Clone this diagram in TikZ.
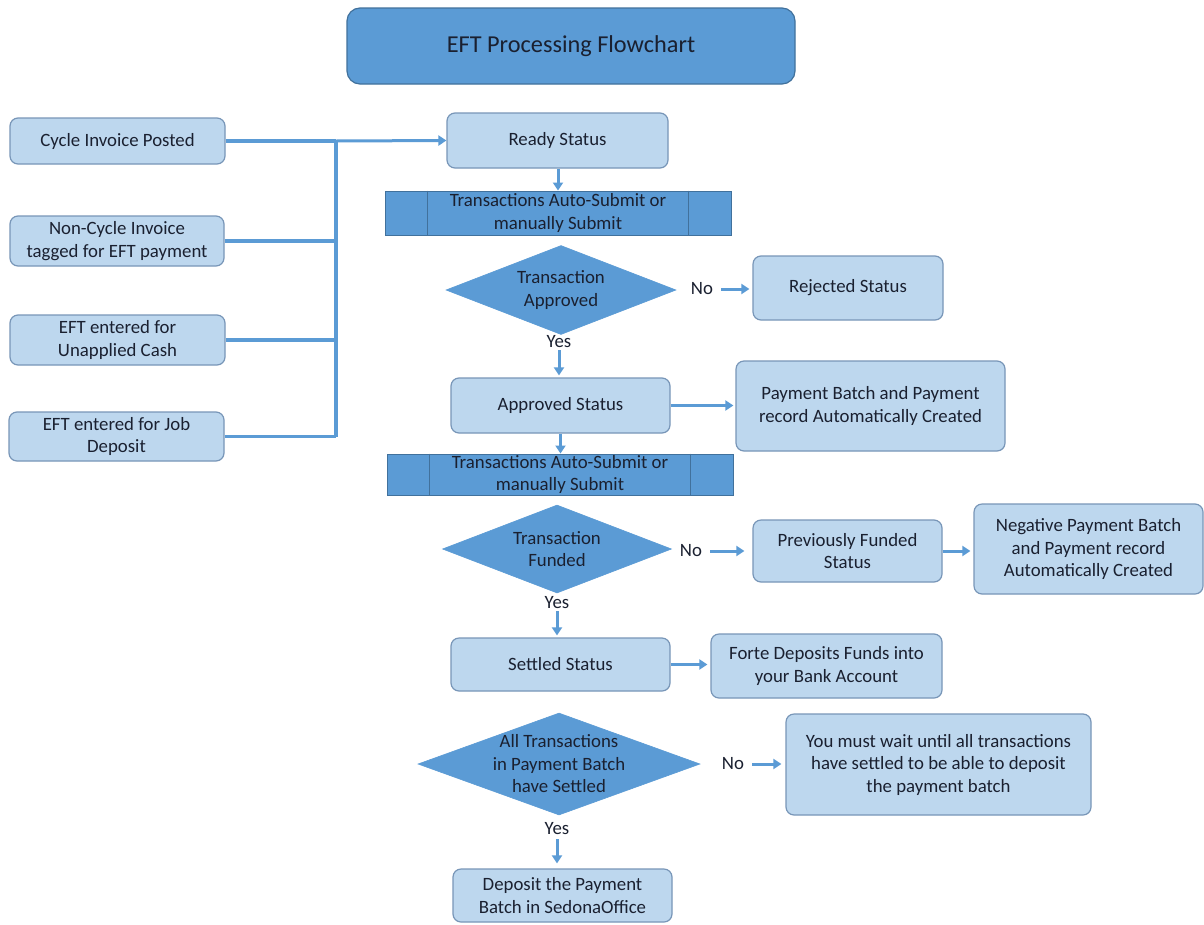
\documentclass[tikz,border=0pt]{standalone}
\usepackage{fontspec}
\setmainfont{Carlito}
\usetikzlibrary{shapes.geometric,arrows.meta,calc}
\definecolor{lightfill}{HTML}{BDD7EE}
\definecolor{lightdraw}{HTML}{7896B8}
\definecolor{darkfill}{HTML}{5B9BD5}
\definecolor{darkdraw}{HTML}{41719C}
\definecolor{linecol}{HTML}{5B9BD5}
\definecolor{txt}{HTML}{1A2030}
\tikzset{
  x=1pt, y=-1pt,
  every node/.style={font=\fontsize{18.8}{22.5}\selectfont, text=txt, align=center, inner sep=0pt},
  lbox/.style={draw=lightdraw, fill=lightfill, rounded corners=8pt, line width=1.2pt},
  barbox/.style={draw=darkdraw, fill=darkfill, line width=1pt},
  dia/.style={diamond, draw=darkfill, fill=darkfill, line width=0.6pt},
  titlebox/.style={draw=darkdraw, fill=darkfill, rounded corners=13pt, line width=1.2pt, font=\fontsize{24.3}{29}\selectfont},
  bus/.style={draw=linecol, line width=3.8pt},
  arr/.style={draw=linecol, line width=3pt, -{Triangle[length=8pt,width=10pt]}}
}
\newcommand{\boxat}[6]{%
  \node[#1, minimum width=#4-#2, minimum height=#5-#3] (#6) at ({(#2+#4)/2},{(#3+#5)/2})}
\begin{document}
\begin{tikzpicture}
\useasboundingbox (0,0) rectangle (1204,924);
\fill[white] (0,0) rectangle (1204,924);
% title
\boxat{titlebox}{347}{8}{795}{84}{title} {EFT Processing Flowchart};
% left inputs
\boxat{lbox}{10}{118}{225}{164}{cyc} {Cycle Invoice Posted};
\boxat{lbox}{10}{216}{224}{266}{noncyc} {Non-Cycle Invoice\\tagged for EFT payment};
\boxat{lbox}{10}{315}{225}{365}{unap} {EFT entered for\\Unapplied Cash};
\boxat{lbox}{9}{412}{224}{461}{jobd} {EFT entered for Job\\Deposit};
% main column
\boxat{lbox}{447}{113}{668}{168}{ready} {Ready Status};
\boxat{barbox}{385}{191}{731}{235}{bar1} {Transactions Auto-Submit or\\manually Submit};
\draw[darkdraw, line width=1pt] ([xshift=43pt]bar1.north west) -- ([xshift=43pt]bar1.south west);
\draw[darkdraw, line width=1pt] ([xshift=-43pt]bar1.north east) -- ([xshift=-43pt]bar1.south east);
\node[dia, minimum width=230, minimum height=89] (d1) at (561,290) {};
\node (d1t) at (d1.center) {Transaction\\Approved};
\node (no1) at (702,289) {No};
\boxat{lbox}{753}{256}{943}{320}{rej} {Rejected Status};
\node (yes1) at (559,342) {Yes};
\boxat{lbox}{451}{378}{670}{433}{appr} {Approved Status};
\boxat{lbox}{736}{361}{1005}{451}{pbatch} {Payment Batch and Payment\\record Automatically Created};
\boxat{barbox}{387}{454}{733}{495}{bar2} {Transactions Auto-Submit or\\manually Submit};
\draw[darkdraw, line width=1pt] ([xshift=43pt]bar2.north west) -- ([xshift=43pt]bar2.south west);
\draw[darkdraw, line width=1pt] ([xshift=-43pt]bar2.north east) -- ([xshift=-43pt]bar2.south east);
\node[dia, minimum width=229, minimum height=88] (d2) at (557,549) {};
\node (d2t) at (d2.center) {Transaction\\Funded};
\node (no2) at (691,551) {No};
\boxat{lbox}{753}{520}{942}{582}{prev} {Previously Funded\\Status};
\boxat{lbox}{974}{504}{1203}{594}{neg} {Negative Payment Batch\\and Payment record\\Automatically Created};
\node (yes2) at (557,603) {Yes};
\boxat{lbox}{451}{638}{670}{691}{settled} {Settled Status};
\boxat{lbox}{711}{634}{942}{698}{forte} {Forte Deposits Funds into\\your Bank Account};
\node[dia, minimum width=282, minimum height=102] (d3) at (559,764) {};
\node (d3t) at (d3.center) {All Transactions\\in Payment Batch\\have Settled};
\node (no3) at (733,764) {No};
\boxat{lbox}{786}{714}{1091}{815}{wait} {You must wait until all transactions\\have settled to be able to deposit\\the payment batch};
\node (yes3) at (557,829) {Yes};
\boxat{lbox}{453}{869}{672}{922}{dep} {Deposit the Payment\\Batch in SedonaOffice};
% bus
\coordinate (jt) at (336,141);
\coordinate (jb) at (336,437);
\draw[bus] (cyc.east) -- (jt);
\draw[bus] (jt) -- (jb);
\draw[bus] (noncyc.east) -- (noncyc.east -| jt);
\draw[bus] (unap.east) -- (unap.east -| jt);
\draw[bus] (jobd.east) -- (jobd.east -| jt);
\draw[arr] (jt) -- (ready.west);
% flow arrows
\draw[arr] (ready.south -| bar1.north) -- (bar1.north);
\draw[arr, shorten <=8pt, shorten >=3pt] (no1.east) -- (no1.east -| rej.west);
\draw[arr, shorten <=2pt, shorten >=2pt] (yes1.south) -- (yes1.south |- appr.north);
\draw[arr, shorten >=2pt] (appr.east) -- (appr.east -| pbatch.west);
\draw[arr] (appr.south) -- (appr.south |- bar2.north);
\draw[arr, shorten <=8pt, shorten >=8pt] (no2.east) -- (no2.east -| prev.west);
\draw[arr, shorten >=3pt] (prev.east) -- (prev.east -| neg.west);
\draw[arr, shorten <=2pt, shorten >=2pt] (yes2.south) -- (yes2.south |- settled.north);
\draw[arr, shorten >=3pt] (settled.east) -- (settled.east -| forte.west);
\draw[arr, shorten <=8pt, shorten >=4pt] (no3.east) -- (no3.east -| wait.west);
\draw[arr, shorten <=4pt, shorten >=5pt] (yes3.south) -- (yes3.south |- dep.north);
\end{tikzpicture}
\end{document}
